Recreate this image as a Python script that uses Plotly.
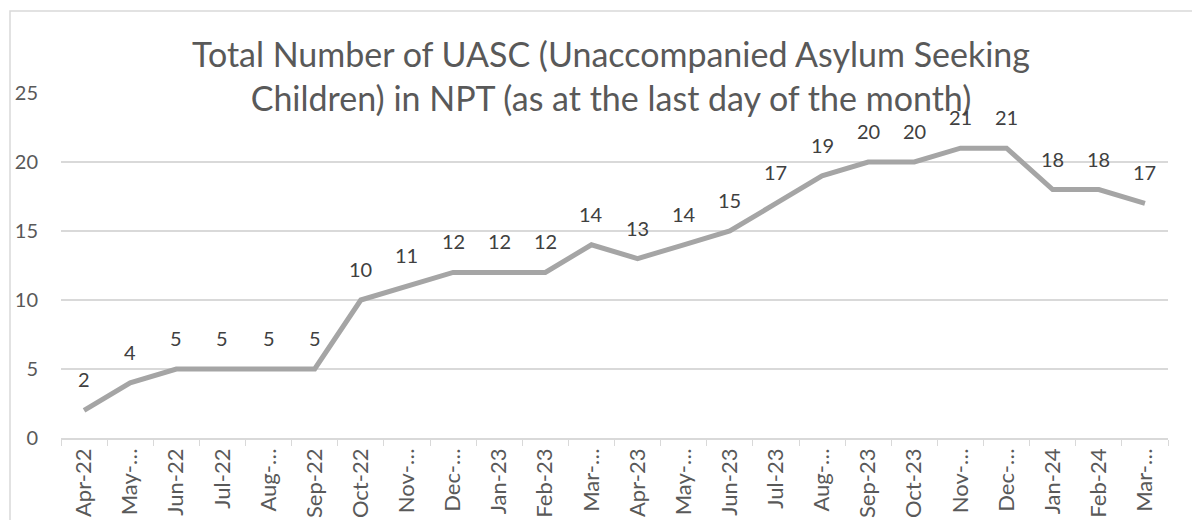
import plotly.graph_objects as go

months = ["Apr-22", "May-22", "Jun-22", "Jul-22", "Aug-22", "Sep-22", "Oct-22", "Nov-22",
          "Dec-22", "Jan-23", "Feb-23", "Mar-23", "Apr-23", "May-23", "Jun-23", "Jul-23",
          "Aug-23", "Sep-23", "Oct-23", "Nov-23", "Dec-23", "Jan-24", "Feb-24", "Mar-24"]
tick_labels = ["Apr-22", "May-…", "Jun-22", "Jul-22", "Aug-…", "Sep-22", "Oct-22", "Nov-…",
               "Dec-…", "Jan-23", "Feb-23", "Mar-…", "Apr-23", "May-…", "Jun-23", "Jul-23",
               "Aug-…", "Sep-23", "Oct-23", "Nov-…", "Dec-…", "Jan-24", "Feb-24", "Mar-…"]
uasc = [2, 4, 5, 5, 5, 5, 10, 11, 12, 12, 12, 14, 13, 14, 15, 17, 19, 20, 20, 21, 21, 18, 18, 17]

title_text = ("Total Number of UASC (Unaccompanied Asylum Seeking<br>"
              "Children) in NPT (as at the last day of the month)")

FONT = "Lato, 'Open Sans', sans-serif"

fig = go.Figure()
fig.add_trace(go.Scatter(
    x=months, y=uasc, mode="lines",
    line=dict(color="#A5A5A5", width=5),
    hoverinfo="x+y", showlegend=False,
))

for m, v in zip(months, uasc):
    fig.add_annotation(x=m, y=v, text=str(v), showarrow=False, yshift=31,
                       font=dict(family=FONT, size=20, color="#404040"))

L, T, W, H = 53, 85, 1107, 345
fig.update_layout(
    width=1200, height=520,
    margin=dict(l=L, r=1200 - L - W, t=T, b=520 - T - H, autoexpand=False),
    paper_bgcolor="white", plot_bgcolor="white",
    font=dict(family=FONT),
    title=dict(text=title_text, x=603 / 1200, xanchor="center",
               y=1 - 59 / 520, yanchor="top", yref="container",
               font=dict(family=FONT, size=34, color="#595959")),
    showlegend=False,
)

fig.update_xaxes(
    type="category", categoryorder="array", categoryarray=months,
    tickmode="array", tickvals=months, ticktext=tick_labels,
    tickson="boundaries", ticks="outside", ticklen=6, tickcolor="#D9D9D9",
    tickangle=-90, tickfont=dict(family=FONT, size=22, color="#595959"),
    showline=True, linecolor="#D9D9D9", linewidth=1.5, automargin=False,
    showgrid=False, zeroline=False, range=[-0.5, 23.5],
)
fig.update_yaxes(
    range=[0, 25], tickvals=[0, 5, 10, 15, 20, 25],
    showgrid=True, gridcolor="#D9D9D9", gridwidth=1.5,
    zeroline=False, showline=False, ticks="", automargin=False,
    ticklabelstandoff=22,
    tickfont=dict(family=FONT, size=20, color="#595959"),
)

# chart-area border
fig.add_shape(type="rect", xref="paper", yref="paper",
              x0=(2 - L) / W, x1=(1215 - L) / W,
              y0=(T + H - 540) / H, y1=(T + H - 3) / H,
              line=dict(color="#D9D9D9", width=1.5), fillcolor="rgba(0,0,0,0)",
              layer="below")

fig.write_html("out.html")
